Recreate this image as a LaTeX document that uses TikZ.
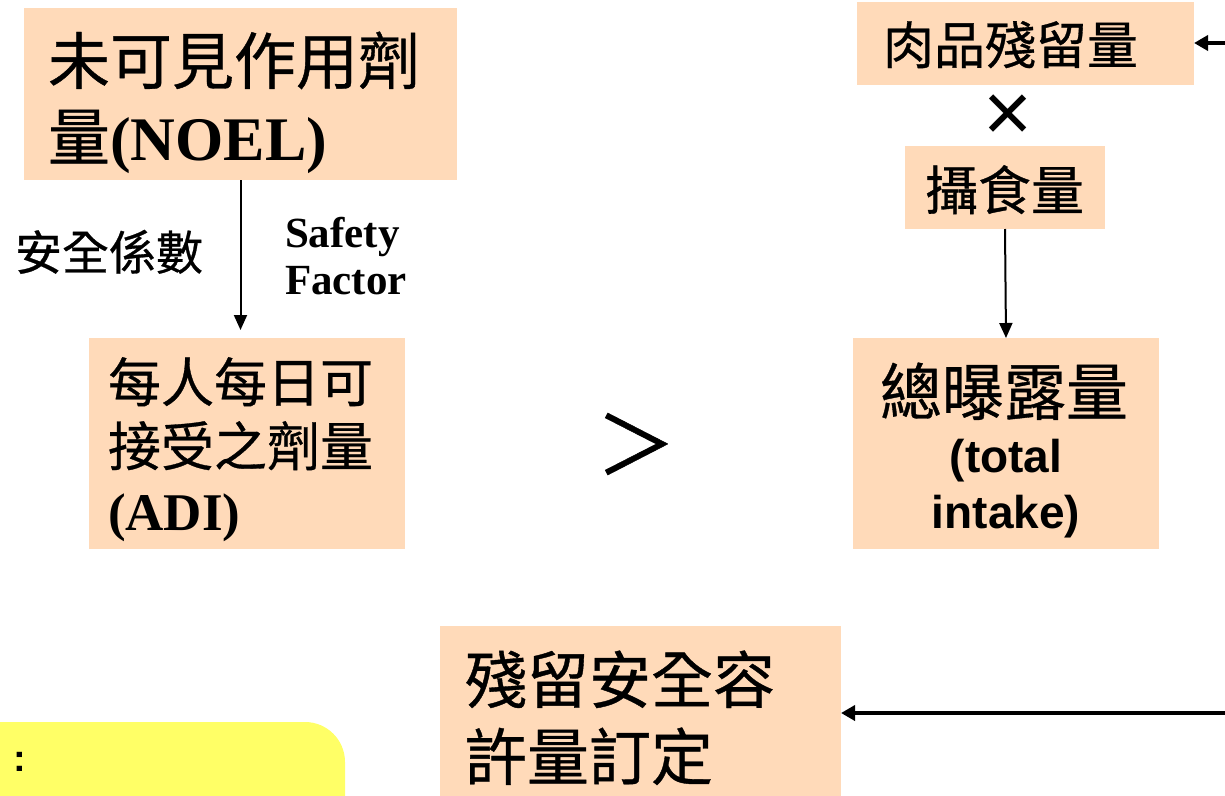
\documentclass[tikz,border=0pt]{standalone}
\usepackage{fontspec}
\setmainfont{Liberation Serif}
\newfontfamily\cjk{Noto Sans CJK TC}[FakeBold=0.6]
\newfontfamily\arialf{Liberation Sans}
\usetikzlibrary{arrows.meta}
\definecolor{peach}{RGB}{255,218,185}
\definecolor{hilite}{RGB}{255,255,102}
\newcommand\fsz[1]{\fontsize{#1}{#1}\selectfont}
\begin{document}
\begin{tikzpicture}[x=1pt,y=-1pt,
  pbox/.style={fill=peach, draw=none, inner sep=0pt, outer sep=0pt},
  lbl/.style={inner sep=0pt, outer sep=0pt, anchor=base west},
  clbl/.style={inner sep=0pt, outer sep=0pt, anchor=base},
  vconn/.style={line width=2pt, -{Triangle[length=15pt 0,width=13pt 0]}},
  hconn/.style={line width=3.6pt, -{Triangle[length=14pt 0,width=15pt 0]}}]
\useasboundingbox (0,0) rectangle (1225,795);
\clip (0,0) rectangle (1225,795);
% boxes
\node[pbox, minimum width=433pt, minimum height=172pt] (noel) at (240.5,94) {};
\node[pbox, minimum width=316pt, minimum height=211pt] (adi) at (247,443.5) {};
\node[pbox, minimum width=337pt, minimum height=83pt] (meat) at (1025.5,43.5) {};
\node[pbox, minimum width=200pt, minimum height=83pt] (intake) at (1005,187.5) {};
\node[pbox, minimum width=306pt, minimum height=211pt] (total) at (1006,443.5) {};
\node[pbox, minimum width=401pt, minimum height=174pt] (mrl) at (640.5,713) {};
\fill[hilite, rounded corners=40pt] (-60,722) -- (345,722) -- (345,860) -- (-60,860) -- cycle;
% texts
\node[lbl] (t1) at (48,84) {\cjk\fsz{62}未可見作用劑};
\node[lbl] (t2) at (48,160) {\cjk\fsz{62}量\rmfamily\bfseries(NOEL)};
\node[lbl] (sf1) at (15,270) {\cjk\fsz{47}安全係數};
\node[lbl] (sf2) at (285,247) {\fsz{43}\bfseries Safety};
\node[lbl] (sf3) at (285,294) {\fsz{43}\bfseries Factor};
\node[lbl] (a1) at (108,402) {\cjk\fsz{53}每人每日可};
\node[lbl] (a2) at (108,466) {\cjk\fsz{53}接受之劑量};
\node[lbl] (a3) at (108,530) {\fsz{53}\bfseries(ADI)};
\node[inner sep=0pt] (gt) at (636,444) {\cjk\fsz{80}＞};
\node[lbl] (m1) at (883,64) {\cjk\fsz{51}肉品殘留量};
\node[inner sep=0pt] (times) at (1008,118) {\arialf\fsz{84}×};
\node[lbl] (i1) at (925,210) {\cjk\fsz{53}攝食量};
\node[lbl] (z1) at (880,415) {\cjk\fsz{62}總曝露量};
\node[clbl] (z2) at (1006,472) {\arialf\bfseries\fsz{46}(total};
\node[clbl] (z3) at (1006,528) {\arialf\bfseries\fsz{46}intake)};
\node[lbl] (r1) at (465,703) {\cjk\fsz{62}殘留安全容};
\node[lbl] (r2) at (465,780) {\cjk\fsz{62}許量訂定};
\node[lbl] (colon) at (13,771) {\arialf\bfseries\fsz{38}:};
% connectors
\coordinate (in1) at (1225,43);
\coordinate (in2) at (1225,713);
\draw[vconn, shorten >=8pt] (noel.south) -- (noel.south |- adi.north);
\draw[vconn] (intake.south) -- (total.north);
\draw[hconn] (in1) -- (meat.east |- in1);
\draw[hconn] (in2) -- (mrl.east |- in2);
\end{tikzpicture}
\end{document}
